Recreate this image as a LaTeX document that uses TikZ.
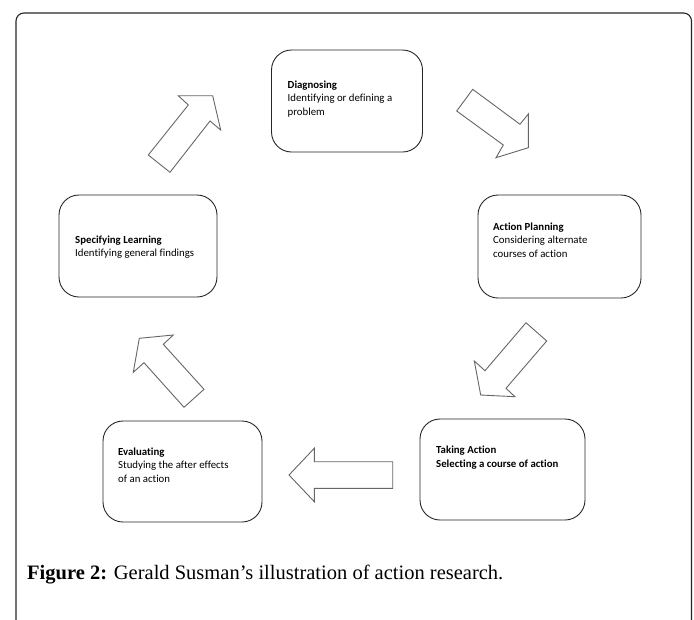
\documentclass[tikz,border=0pt]{standalone}
\usepackage{fontspec}
\setmainfont{Liberation Serif}
\newfontfamily\boxfont[Ligatures=NoCommon]{Carlito}
\begin{document}
\begin{tikzpicture}[x=1pt,y=-1pt,
  stage/.style={draw=black!85,line width=0.9pt,rounded corners=20pt,inner sep=0pt},
  stagetext/.style={font={\boxfont\fontsize{10.8}{13.5}\selectfont},align=left,inner sep=0pt,anchor=base west,text=black},
  blockarrow/.style={draw=black!60,line width=0.9pt,fill=white,line join=miter}]
\useasboundingbox (0,0) rectangle (694,619);
% outer frame
\draw[line width=1.1pt,black!85,rounded corners=8pt] (16,625) -- (16,13) -- (691.5,13) -- (691.5,625);
% stage boxes
\draw[stage] (271.5,50) rectangle (422.5,152);
\coordinate (diag) at (271.5,50);
\draw[stage] (478,195) rectangle (641,298);
\coordinate (plan) at (478,195);
\draw[stage] (59,195) rectangle (217,297);
\coordinate (spec) at (59,195);
\draw[stage] (103,421) rectangle (262,522);
\coordinate (eval) at (103,421);
\draw[stage] (420,419) rectangle (585,520);
\coordinate (take) at (420,419);
% texts (base anchor = baseline of last line)
\node[stagetext] (tdiag) at ([shift={(16,65)}]diag) {\textbf{Diagnosing}\\Identifying or defining a\\problem};
\node[stagetext] (tplan) at ([shift={(15,62)}]plan) {\textbf{Action Planning}\\Considering alternate\\courses of action};
\node[stagetext] (tspec) at ([shift={(16,61.5)}]spec) {\textbf{Specifying Learning}\\Identifying general findings};
\node[stagetext] (teval) at ([shift={(15,61)}]eval) {\textbf{Evaluating}\\Studying the after effects\\of an action};
\node[stagetext] (ttake) at ([shift={(16,48)}]take) {\textbf{Taking Action}\\\textbf{Selecting a course of action}};
% block arrows
\draw[blockarrow] (148.3,155) -- (188.3,105) -- (178.3,95.7) -- (212.7,95.7) -- (220.7,130) -- (210,121) -- (170,172.3) -- cycle;
\draw[blockarrow] (472.7,89.3) -- (520,124.3) -- (528.3,114) -- (528.3,147.7) -- (496,157.7) -- (503.3,145) -- (456.7,111) -- cycle;
\draw[blockarrow] (526,322.7) -- (546.7,341) -- (506,388.3) -- (515,396.7) -- (480.7,395) -- (474.3,361) -- (485,370.7) -- cycle;
\draw[blockarrow] (204,389.3) -- (184,407.3) -- (144,362.7) -- (133.3,372.3) -- (139.3,338.3) -- (173.3,335) -- (163.3,344.3) -- cycle;
\draw[blockarrow] (392.7,461.7) -- (314.3,461.7) -- (314.3,448.3) -- (289,475) -- (314.3,501.7) -- (314.3,488.3) -- (392.7,488.3) -- cycle;
% caption
\node[anchor=base west,inner sep=0pt,font=\fontsize{20.5}{24}\selectfont] (caption) at (27,579) {\textbf{Figure 2:} Gerald Susman’s illustration of action research.};
\end{tikzpicture}
\end{document}
